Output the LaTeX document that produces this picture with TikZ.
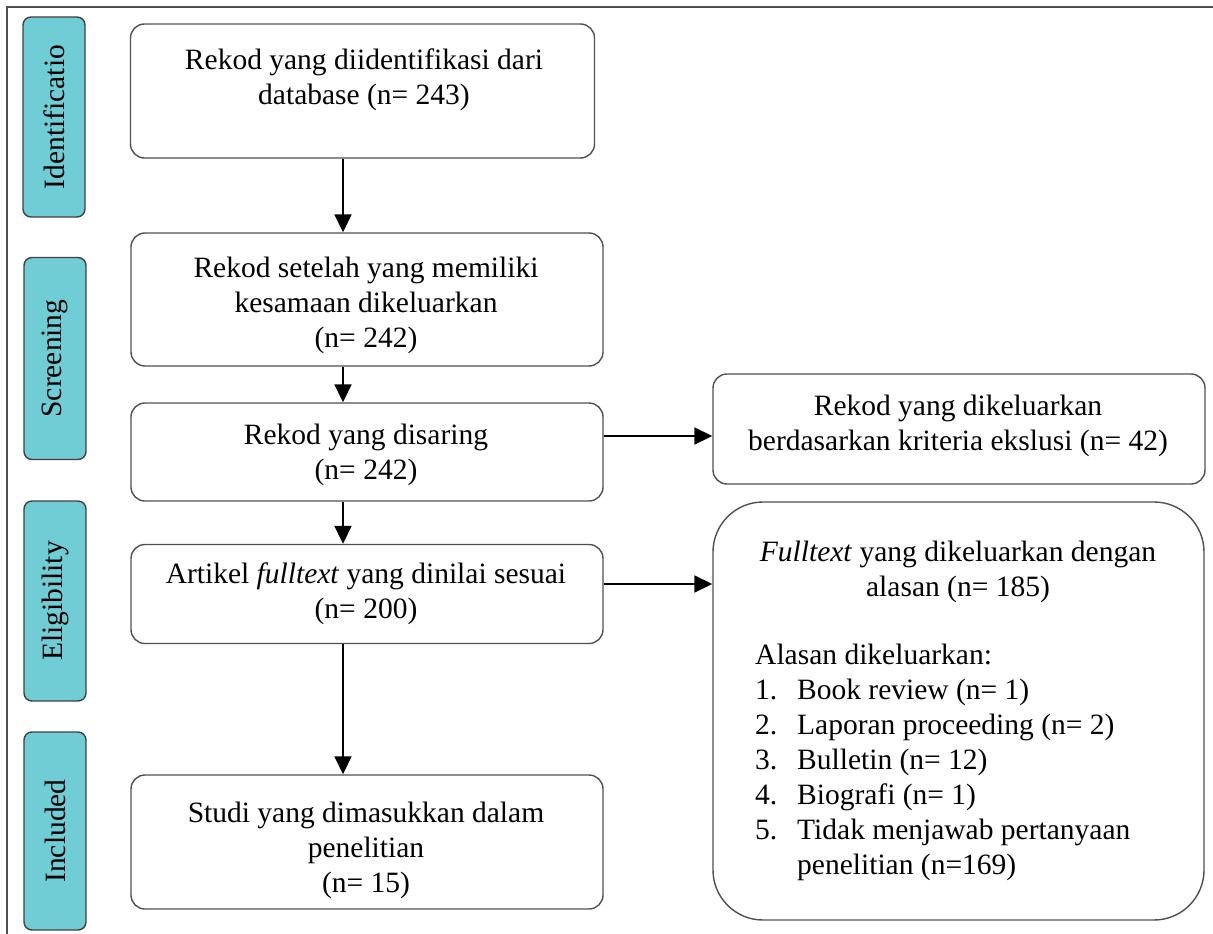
\documentclass[tikz,border=0pt]{standalone}
\usepackage{fontspec}
\setmainfont{Liberation Serif}
\usetikzlibrary{arrows.meta}
\definecolor{tealfill}{RGB}{113,205,213}
\definecolor{edgegray}{RGB}{80,80,80}
\begin{document}
\begin{tikzpicture}[x=1pt,y=-1pt,
  every node/.style={font=\fontsize{29.5}{35}\selectfont},
  flowbox/.style={draw=edgegray,line width=1.4pt,rounded corners=14pt,inner sep=0pt},
  sidebox/.style={draw=black!75,line width=1.4pt,fill=tealfill,rounded corners=8pt,inner sep=0pt,minimum width=62pt,minimum height=200pt},
  sidetext/.style={rotate=90,inner sep=0pt},
  btext/.style={align=center,inner sep=0pt},
  arr/.style={line width=1.8pt,-{Triangle[length=18pt,width=17pt]}}
]
\useasboundingbox (0,0) rectangle (1213,934);
% frame
\draw[edgegray,line width=1.5pt] (7,934) -- (7,7) -- (1213,7);

% side labels
\node[sidebox] (sid) at (54,117) {};
\node[sidetext] (sidt) at (sid.center) {Identificatio};
\node[sidebox,minimum height=202pt] (sscr) at (55,358.5) {};
\node[sidetext] (sscrt) at (sscr.center) {Screening};
\node[sidebox] (selig) at (55,601) {};
\node[sidetext] (seligt) at (selig.center) {Eligibility};
\node[sidebox,minimum height=198pt] (sinc) at (55,831) {};
\node[sidetext] (sinct) at (sinc.center) {Included};

% main boxes
\node[flowbox,minimum width=464pt,minimum height=134pt] (b1) at (362.5,91) {};
\node[btext] (b1t) at (364,80) {Rekod yang diidentifikasi dari\\database (n= 243)};
\node[flowbox,minimum width=472pt,minimum height=133pt] (b2) at (367,299.5) {};
\node[btext] (b2t) at (366,305) {Rekod setelah yang memiliki\\kesamaan dikeluarkan\\(n= 242)};
\node[flowbox,minimum width=472pt,minimum height=98pt] (b3) at (367,452) {};
\node[btext] (b3t) at (366,455) {Rekod yang disaring\\(n= 242)};
\node[flowbox,minimum width=472pt,minimum height=99pt] (b4) at (367,594) {};
\node[btext] (b4t) at (366,594) {Artikel \textit{fulltext} yang dinilai sesuai\\(n= 200)};
\node[flowbox,minimum width=472pt,minimum height=134pt] (b5) at (367,842) {};
\node[btext] (b5t) at (366,850) {Studi yang dimasukkan dalam\\penelitian\\(n= 15)};

% right boxes
\node[flowbox,minimum width=492pt,minimum height=110pt] (r1) at (959,429) {};
\node[btext] (r1t) at (958,426) {Rekod yang dikeluarkan\\berdasarkan kriteria ekslusi (n= 42)};
\node[flowbox,rounded corners=50pt,minimum width=491pt,minimum height=418pt] (r2) at (958.5,711) {};
\node[btext] (r2t) at (958,572) {\textit{Fulltext} yang dikeluarkan dengan\\alasan (n= 185)};
\node[align=left,anchor=north west,inner sep=0pt] (r2l) at (755,644) {Alasan dikeluarkan:\\
\makebox[42pt][l]{1.}Book review (n= 1)\\
\makebox[42pt][l]{2.}Laporan proceeding (n= 2)\\
\makebox[42pt][l]{3.}Bulletin (n= 12)\\
\makebox[42pt][l]{4.}Biografi (n= 1)\\
\makebox[42pt][l]{5.}Tidak menjawab pertanyaan\\
\hspace*{42pt}penelitian (n=169)};

% connectors
\coordinate (ax) at (343,0);
\coordinate (ay1) at (0,436);
\coordinate (ay2) at (0,584);
\draw[arr] (b1.south -| ax) -- (b2.north -| ax);
\draw[arr] (b2.south -| ax) -- (b3.north -| ax);
\draw[arr] (b3.south -| ax) -- (b4.north -| ax);
\draw[arr] (b4.south -| ax) -- (b5.north -| ax);
\draw[arr] (b3.east |- ay1) -- (r1.west |- ay1);
\draw[arr] (b4.east |- ay2) -- (r2.west |- ay2);
\end{tikzpicture}
\end{document}
